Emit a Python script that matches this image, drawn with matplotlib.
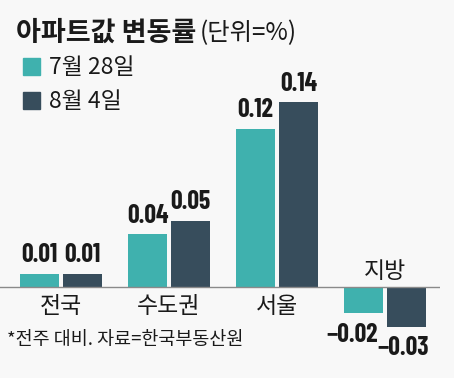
import matplotlib.pyplot as plt
import numpy as np

# data
regions = ["전국", "수도권", "서울", "지방"]
jul28 = [0.01, 0.04, 0.12, -0.02]
aug04 = [0.01, 0.05, 0.14, -0.03]
series_names = ["7월 28일", "8월 4일"]

teal = "#3fb1ae"
navy = "#374d5c"
bg = "#f8f8f8"
ink = "#1a1a1a"
kr = ["Noto Sans CJK KR", "DejaVu Sans"]
num = ["Barlow Condensed", "Noto Sans CJK KR"]

fig = plt.figure(figsize=(4.54, 3.78), dpi=100, facecolor=bg)
ax = fig.add_axes([0, 0, 440 / 454, 1])
ax.set_facecolor(bg)

x = np.arange(len(regions))
off = 21.5 / 108
w = 39 / 108
ax.bar(x - off, jul28, w, color=teal)
ax.bar(x + off, aug04, w, color=navy)
ax.axhline(0, color="#8a8a8a", lw=1)

ax.set_xlim(-61 / 108, 379 / 108)
ax.set_ylim(-91 / 1320, 287 / 1320)
ax.axis("off")

def fmt(v):
    return f"{v:.2f}".replace("-", "−")

# value labels
for xs, vals, nshift in [(x - off, jul28, -0.11), (x + off, aug04, -0.03)]:
    for xi, v in zip(xs, vals):
        if v >= 0:
            ax.text(xi, v + 0.005, fmt(v), ha="center", va="bottom",
                    family=num, fontsize=18.5, fontweight="bold", color=ink)
        else:
            ax.text(xi + nshift, v - 0.007, fmt(v), ha="center", va="top",
                    family=num, fontsize=18.5, fontweight="bold", color=ink)

# category labels
for i, r in enumerate(regions):
    if jul28[i] >= 0:
        ax.text(i, -0.006, r, ha="center", va="top", family=kr, fontsize=16.5, color=ink)
    else:
        ax.text(i, 0.003, r, ha="center", va="bottom", family=kr, fontsize=16.5, color=ink)

# title
fig.text(16 / 454, 1 - 33 / 378, "아파트값 변동률", family=kr, fontsize=19.5,
         fontweight="bold", va="center", ha="left", color=ink)
fig.text(200 / 454, 1 - 33 / 378, "(단위=%)", family=kr, fontsize=17.5,
         va="center", ha="left", color=ink)

# legend
for yy, c, name in [(67, teal, series_names[0]), (101, navy, series_names[1])]:
    fig.patches.append(plt.Rectangle((23 / 454, 1 - (yy + 8) / 378), 17 / 454, 17 / 378,
                                     transform=fig.transFigure, color=c))
    fig.text(49 / 454, 1 - yy / 378, name, family=kr, fontsize=16.5, va="center",
             ha="left", color=ink)

fig.text(7 / 454, 1 - 340 / 378, "*전주 대비. 자료=한국부동산원", family=kr, fontsize=13.3,
         va="center", ha="left", color=ink)

fig.savefig("out.png", dpi=100, facecolor=bg)
